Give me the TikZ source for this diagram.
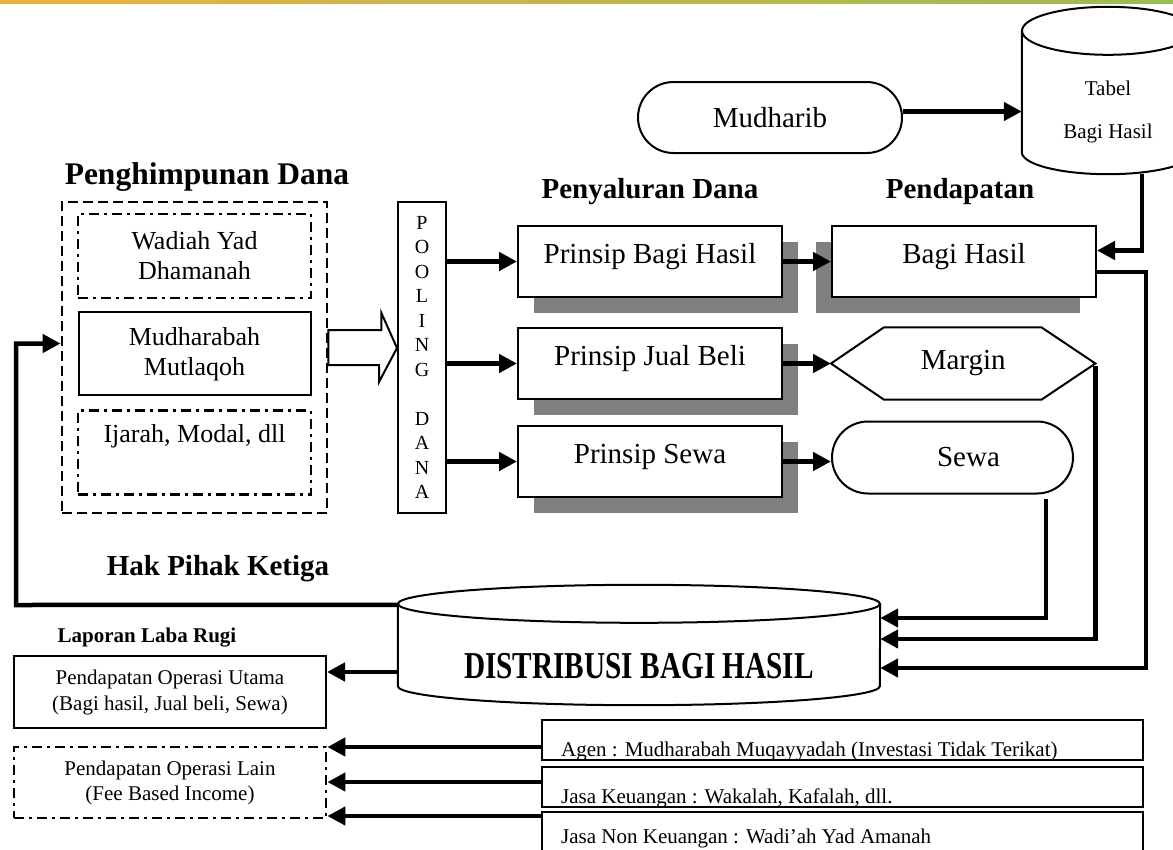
\documentclass[tikz,border=0pt]{standalone}
\usepackage{fontspec}
\setmainfont{Liberation Serif}
\usepackage{graphicx}
\usetikzlibrary{shapes.misc,arrows.meta,positioning,calc,shadows}

\definecolor{barleft}{RGB}{232,176,76}
\definecolor{barright}{RGB}{155,187,89}
\definecolor{shadegray}{RGB}{128,128,128}

\tikzset{
  flow/.style={line width=4.5pt, -{Triangle[length=18pt,width=18pt]}},
  outline/.style={draw, line width=2pt, inner sep=0pt},
  procbox/.style={outline, fill=white, minimum width=264pt, minimum height=71pt,
    text depth=16pt, font=\fontsize{29}{34}\selectfont},
  rshadow/.style={general shadow={fill=shadegray, shadow xshift=16pt, shadow yshift=-16pt}},
  lshadow/.style={general shadow={fill=shadegray, shadow xshift=-16pt, shadow yshift=-16pt}},
  heading/.style={inner sep=0pt, anchor=base, font=\fontsize{29}{33}\selectfont\bfseries},
  dashgroup/.style={draw, line width=2.8pt, dash pattern=on 10pt off 5pt, inner sep=0pt},
  dotbox/.style={draw, line width=2.8pt, dash pattern=on 10pt off 5pt on 3pt off 5pt,
    inner sep=0pt, align=center, font=\fontsize{26}{30}\selectfont},
  plainbox/.style={outline, align=center, font=\fontsize{26}{30}\selectfont},
  infobox/.style={outline, minimum width=601pt, minimum height=40pt},
  infotext/.style={inner sep=0pt, anchor=base west, font=\fontsize{21}{24}\selectfont}
}

\begin{document}
\begin{tikzpicture}[x=1pt, y=-1pt]
\useasboundingbox (0,0) rectangle (1173,849);
\clip (0,0) rectangle (1173,849);
\shade[left color=barleft, right color=barright] (0,0) rectangle (1173,3);

% judul
\node[heading, font=\fontsize{31.5}{36}\selectfont\bfseries] (hdhimpun) at (207,184) {Penghimpunan Dana};
\node[heading] (hdsalur) at (650,198) {Penyaluran Dana};
\node[heading] (hddapat) at (960,198) {Pendapatan};
\node[heading] (hdhak) at (218,575) {Hak Pihak Ketiga};
\node[heading, font=\fontsize{21}{24}\selectfont\bfseries] (hdlaba) at (147,642) {Laporan Laba Rugi};

% penghimpunan dana
\node[dashgroup, minimum width=265pt, minimum height=311pt] (himpun) at (194.5,357.5) {};
\node[dotbox, minimum width=233pt, minimum height=84pt] (wadiah) at (194.5,256) {Wadiah Yad\\Dhamanah};
\node[plainbox, minimum width=232pt, minimum height=83pt, below=12pt of wadiah] (mudharabah) {Mudharabah\\Mutlaqoh};
\node[dotbox, minimum width=233pt, minimum height=84pt, below=13pt of mudharabah] (ijarah) {Ijarah, Modal, dll\\\strut};

% pooling
\node[outline, minimum width=48pt, minimum height=311pt, align=center,
  font=\fontsize{20}{24.5}\selectfont] (pooling) at (422,357.5)
  {P\\O\\O\\L\\I\\N\\G\\[24.5pt]D\\A\\N\\A};
\draw[line width=2pt, fill=white] ([yshift=27.5pt]himpun.east) -- ++(53,0) -- ++(0,-17)
  -- ([yshift=9.5pt]pooling.west) -- ++(-18,34) -- ++(0,-17) -- ([yshift=-7.5pt]himpun.east) -- cycle;

% penyaluran dana
\node[procbox, rshadow] (pbagi) at (650,261.5) {Prinsip Bagi Hasil};
\node[procbox, rshadow, below=29pt of pbagi] (pjual) {Prinsip Jual Beli};
\node[procbox, rshadow, below=25pt of pjual] (psewa) {Prinsip Sewa};

% pendapatan
\node[procbox, lshadow, right=48pt of pbagi] (bagi) {Bagi Hasil};
\node[inner sep=0pt, minimum width=264pt, minimum height=72pt, right=48pt of pjual,
  font=\fontsize{29}{34}\selectfont] (margin) {Margin};
\draw[line width=2pt] (margin.west) -- ([xshift=53pt]margin.north west) -- ([xshift=-54pt]margin.north east)
  -- (margin.east) -- ([xshift=-54pt]margin.south east) -- ([xshift=53pt]margin.south west) -- cycle;
\node[outline, rounded rectangle, minimum width=241pt, minimum height=72pt, right=48pt of psewa, yshift=4pt,
  font=\fontsize{29}{34}\selectfont] (sewa) {\hspace*{32pt}Sewa};

% mudharib dan tabel
\node[outline, rounded rectangle, minimum width=264pt, minimum height=71pt,
  font=\fontsize{29}{34}\selectfont] (mudharib) at (770,117.5) {Mudharib};
\node[inner sep=0pt, minimum width=172pt, minimum height=169pt] (tabel) at (1108,91.5) {};
\draw[line width=2pt] ([yshift=-24pt]tabel.north) ellipse[x radius=86, y radius=24];
\draw[line width=2pt] ([yshift=-24pt]tabel.north west) -- ([yshift=24pt]tabel.south west)
  arc[start angle=180, end angle=0, x radius=86, y radius=22] -- ([yshift=-24pt]tabel.north east);
\node[align=center, font=\fontsize{21}{43}\selectfont] (tabeltxt) at ([yshift=-20pt]tabel.center) {Tabel\\Bagi Hasil};

% distribusi
\node[inner sep=0pt, minimum width=482pt, minimum height=120pt] (distribusi) at (639,645) {};
\draw[line width=2pt] ([yshift=-19pt]distribusi.north) ellipse[x radius=241, y radius=19];
\draw[line width=2pt] ([yshift=-19pt]distribusi.north west) -- ([yshift=19pt]distribusi.south west)
  arc[start angle=180, end angle=0, x radius=241, y radius=19] -- ([yshift=-19pt]distribusi.north east);
\node[font=\fontsize{38}{40}\selectfont\bfseries, inner sep=0pt] (distxt) at ([yshift=-21pt]distribusi.center)
  {\scalebox{0.77}[1]{DISTRIBUSI BAGI HASIL}};

% laporan laba rugi
\node[outline, minimum width=312pt, minimum height=72pt, align=center,
  font=\fontsize{21}{26}\selectfont] (utama) at (170,692) {Pendapatan Operasi Utama\\(Bagi hasil, Jual beli, Sewa)};
\node[dotbox, minimum width=312pt, minimum height=71pt, font=\fontsize{21}{25}\selectfont] (lain) at (170,782.5)
  {Pendapatan Operasi Lain\\(Fee Based Income)};

\node[infobox] (agen) at (842.5,740) {};
\node[infobox] (keu) at (842.5,787) {};
\node[infobox] (non) at (842.5,832) {};
\begin{scope}
  \clip (agen.north west) rectangle (agen.south east) (keu.north west) rectangle (keu.south east)
    (non.north west) rectangle (non.south east);
  \node[infotext] (agentxt) at ([xshift=20pt,yshift=5pt]agen.south west) {Agen : Mudharabah Muqayyadah (Investasi Tidak Terikat)};
  \node[infotext] (keutxt) at ([xshift=20pt,yshift=5pt]keu.south west) {Jasa Keuangan : Wakalah, Kafalah, dll.};
  \node[infotext] (nontxt) at ([xshift=20pt,yshift=-11pt]non.center -| non.west) {Jasa Non Keuangan : Wadi’ah Yad Amanah};
\end{scope}

% panah
\draw[flow] ([yshift=6pt]mudharib.east) -- ([yshift=6pt]mudharib.east -| tabel.west);
\draw[flow] ([xshift=34pt,yshift=2pt]tabel.south) |- ([yshift=11pt]bagi.east);
\draw[flow] (pbagi.west -| pooling.east) -- (pbagi.west);
\draw[flow] (pjual.west -| pooling.east) -- (pjual.west);
\draw[flow] (psewa.west -| pooling.east) -- (psewa.west);
\draw[flow] (pbagi.east) -- (bagi.west);
\draw[flow] (pjual.east) -- (margin.west);
\draw[flow] (psewa.east) -- (psewa.east -| sewa.west);
\draw[flow] ([yshift=-10.5pt]bagi.east) -- ++(49,0) |- ([yshift=-23pt]distribusi.east);
\draw[flow] ([yshift=-2pt]margin.east) |- ([yshift=6pt]distribusi.east);
\draw[flow] ([xshift=93.5pt,yshift=-4pt]sewa.south) |- ([yshift=27pt]distribusi.east);
\coordinate (retcorner) at (16,605);
\draw[flow] ([yshift=-20pt]distribusi.north west) -- (retcorner) |- ([yshift=14pt]himpun.west);
\draw[flow] ([yshift=-27pt]distribusi.west) -- ([yshift=-27pt]distribusi.west -| utama.east);
\draw[flow] ([yshift=-7pt]agen.west) -- ([yshift=-7pt]agen.west -| lain.east);
\draw[flow] ([yshift=5pt]keu.west) -- ([yshift=5pt]keu.west -| lain.east);
\draw[flow] ([yshift=16pt]non.west) -- ([yshift=16pt]non.west -| lain.east);
\end{tikzpicture}
\end{document}
